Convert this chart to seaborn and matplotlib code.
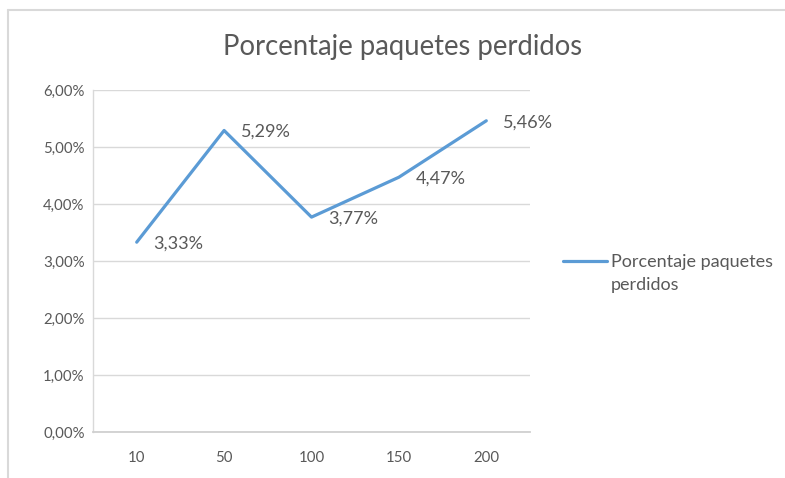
import matplotlib
matplotlib.use("Agg")
import matplotlib.pyplot as plt
import seaborn as sns
import pandas as pd
from matplotlib.lines import Line2D

# Data
categories = ["10", "50", "100", "150", "200"]
loss_pct = [3.33, 5.29, 3.77, 4.47, 5.46]
y_ticks = [0, 1, 2, 3, 4, 5, 6]
title = "Porcentaje paquetes perdidos"
series_name = "Porcentaje paquetes\nperdidos"

df = pd.DataFrame({"pos": range(len(categories)), "cat": categories, "val": loss_pct})

sns.set_theme(style="white")
plt.rcParams["font.family"] = ["Lato", "DejaVu Sans"]

TEXT = "#595959"
GRID = "#d9d9d9"
BLUE = "#5b9bd5"

fig = plt.figure(figsize=(7.85, 4.78), dpi=100)
ax = fig.add_axes([93 / 785, 1 - 432 / 478, (530 - 93) / 785, (432 - 90) / 478])

sns.lineplot(data=df, x="pos", y="val", ax=ax, color=BLUE, linewidth=2.3,
             legend=False)

ax.set_xlim(-0.5, len(categories) - 0.5)
ax.set_ylim(0, 6)
ax.set_xticks(df["pos"])
ax.set_xticklabels(categories)
ax.set_yticks(y_ticks)
ax.set_yticklabels([f"{v:.2f}%".replace(".", ",") for v in y_ticks])
ax.set_xlabel("")
ax.set_ylabel("")
ax.tick_params(axis="both", length=0, colors=TEXT, labelsize=10.8)
ax.tick_params(axis="x", pad=14)
ax.tick_params(axis="y", pad=6)

ax.grid(axis="y", color=GRID, linewidth=1)
for s in ["top", "right"]:
    ax.spines[s].set_visible(False)
ax.spines["left"].set_color(GRID)
ax.spines["left"].set_linewidth(1)
ax.spines["bottom"].set_color("#d0d0d0")
ax.spines["bottom"].set_linewidth(1.3)

# Data labels to the right of each point
for x, v in zip(df["pos"], df["val"]):
    ax.annotate(f"{v:.2f}%".replace(".", ","), (x, v), xytext=(12, -1),
                textcoords="offset points", ha="left", va="center",
                color=TEXT, fontsize=13)

fig.text(402.5 / 785, 1 - 47 / 478, title, ha="center", va="center",
         color=TEXT, fontsize=19.8)

# Legend: handle sits beside the first line of the wrapped series name
name_lines = series_name.split("\n")
handle = Line2D([], [], color=BLUE, linewidth=2.3)
leg = fig.legend([handle], [name_lines[0]], loc="center left",
                 bbox_to_anchor=(563 / 785, 1 - 262 / 478), frameon=False,
                 fontsize=13, labelcolor=TEXT, handlelength=2.45,
                 handletextpad=0.2, borderpad=0, borderaxespad=0)
fig.canvas.draw()
tb = leg.get_texts()[0].get_window_extent()
fig.text(tb.x0 / fig.bbox.width, 1 - 285 / 478, "\n".join(name_lines[1:]),
         ha="left", va="center", color=TEXT, fontsize=13)

# Outer chart frame (top and left edges)
fig.add_artist(Line2D([8 / 785, 8 / 785], [0, 1 - 10 / 478], transform=fig.transFigure,
                      color=GRID, linewidth=1.5))
fig.add_artist(Line2D([8 / 785, 1], [1 - 10 / 478, 1 - 10 / 478], transform=fig.transFigure,
                      color=GRID, linewidth=1.5))

fig.savefig("out.png", dpi=100, facecolor="white")
